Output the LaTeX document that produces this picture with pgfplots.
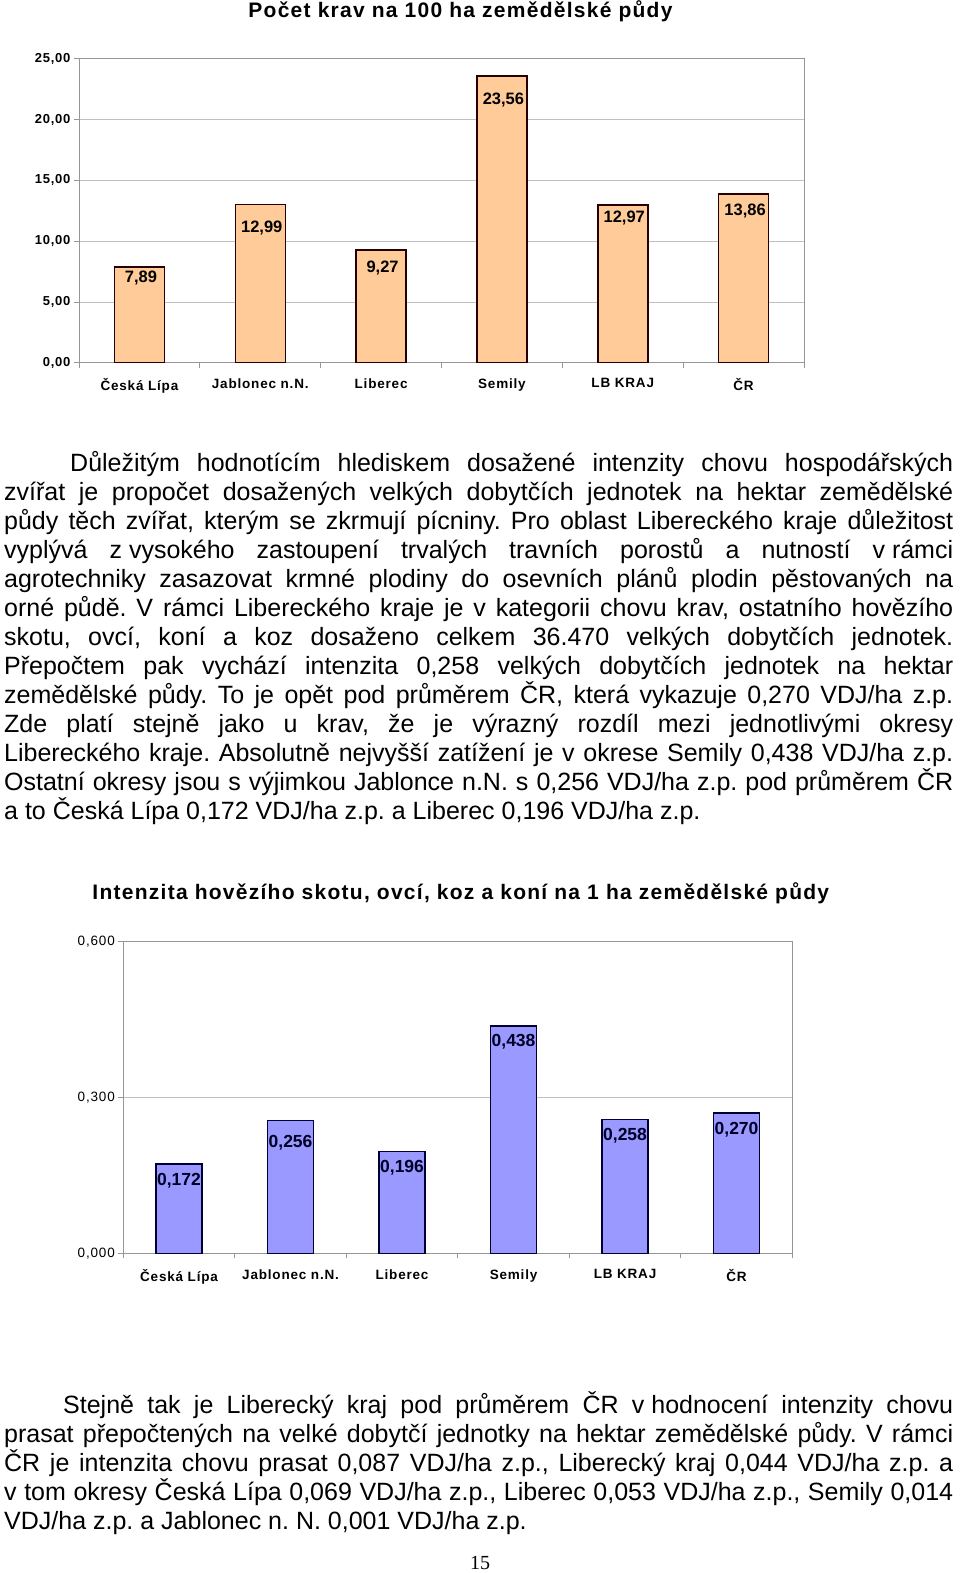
\documentclass[border=0pt]{standalone}
\usepackage{pgfplots}
\pgfplotsset{compat=1.18}
\usepackage{fontspec}
\setmainfont{Liberation Sans}
\newfontfamily\cf[LetterSpace=6]{Liberation Sans}
\newfontfamily\serif{Liberation Serif}
\definecolor{peach}{RGB}{255,204,153}
\definecolor{lav}{RGB}{153,153,255}
\definecolor{gridc}{RGB}{192,192,192}
\definecolor{axc}{RGB}{150,150,150}
\newcommand\body{\fontsize{25}{29}\selectfont\frenchspacing}
\newcommand\Ln[4]{\node[anchor=base west,inner sep=0pt] at (#1pt,-#2pt) {\body\makebox[#3pt][s]{#4}};}
\newcommand\Lp[3]{\node[anchor=base west,inner sep=0pt] at (#1pt,-#2pt) {\body #3};}
\pgfplotsset{
  mybars/.style={
    scale only axis, anchor=south west, clip=false,
    xmin=-0.5, xmax=5.5,
    xtick={-0.5,0.5,1.5,2.5,3.5,4.5,5.5}, x tick label as interval,
    xticklabels={Česká Lípa,Jablonec n.N.,Liberec,Semily,LB KRAJ,ČR},
    xtick pos=bottom, ytick pos=left,
    tick align=outside, major tick length=5pt,
    tick style={draw=axc, line width=0.8pt},
    axis line style={draw=axc, line width=1pt},
    ymajorgrids, grid style={draw=gridc, line width=0.8pt},
    xmajorgrids=false,
    ybar,
    xticklabel style={font=\cf\bfseries\fontsize{13.5}{14}\selectfont, inner sep=0pt, anchor=north},
  }
}
\begin{document}
\begin{tikzpicture}[x=1pt,y=1pt]
\useasboundingbox (0,0) rectangle (960,-1573);
\fill[white] (0,0) rectangle (960,-1573);

% ---------- Chart 1 ----------
\node[anchor=base, inner sep=0pt, font=\cf\bfseries\fontsize{21}{22}\selectfont] at (460.5,-17.3) {Počet krav na 100 ha zemědělské půdy};
\begin{axis}[mybars,
  at={(79pt,-362.7pt)},
  width=725pt, height=304pt,
  ymin=0, ymax=25,
  ytick={0,5,10,15,20,25},
  yticklabels={{0,00},{5,00},{10,00},{15,00},{20,00},{25,00}},
  yticklabel style={font=\cf\bfseries\fontsize{13}{14}\selectfont},
  xticklabel style={yshift=-10.5pt},
  bar width=50pt,
  nodes near coords={\pgfmathprintnumber[fixed,fixed zerofill,precision=2,use comma,assume math mode=true]{\pgfplotspointmeta}},
]
\addplot[fill=peach, draw=black!85!red, line width=1.5pt,
  visualization depends on={\thisrow{dy}\as\dy},
  every node near coord/.append style={anchor=center, inner sep=0pt, xshift=1.5pt, yshift=-\dy pt, text=black,
    font=\bfseries\fontsize{16.5}{17}\selectfont}]
  table[x=x,y=y]{
x y dy
0 7.89 11
1 12.99 23.5
2 9.27 18
3 23.56 24
4 12.97 13.5
5 13.86 17
};
\end{axis}

% ---------- Paragraph 1 ----------
\Ln{70}{471}{883}{Důležitým hodnotícím hlediskem dosažené intenzity chovu hospodářských}
\Ln{4}{500}{949}{zvířat je propočet dosažených velkých dobytčích jednotek na hektar zemědělské}
\Ln{4}{529}{949}{půdy těch zvířat, kterým se zkrmují pícniny. Pro oblast Libereckého kraje důležitost}
\Ln{4}{558}{949}{vyplývá \mbox{z vysokého} zastoupení trvalých travních porostů a nutností \mbox{v rámci}}
\Ln{4}{587}{949}{agrotechniky zasazovat krmné plodiny do osevních plánů plodin pěstovaných na}
\Ln{4}{616}{949}{orné půdě. V rámci Libereckého kraje je v kategorii chovu krav, ostatního hovězího}
\Ln{4}{645}{949}{skotu, ovcí, koní a koz dosaženo celkem 36.470 velkých dobytčích jednotek.}
\Ln{4}{674}{949}{Přepočtem pak vychází intenzita 0,258 velkých dobytčích jednotek na hektar}
\Ln{4}{703}{949}{zemědělské půdy. To je opět pod průměrem ČR, která vykazuje 0,270 VDJ/ha z.p.}
\Ln{4}{732}{949}{Zde platí stejně jako u krav, že je výrazný rozdíl mezi jednotlivými okresy}
\Ln{4}{761}{949}{Libereckého kraje. Absolutně nejvyšší zatížení je v okrese Semily 0,438 VDJ/ha z.p.}
\Ln{4}{790}{949}{Ostatní okresy jsou s výjimkou Jablonce n.N. s 0,256 VDJ/ha z.p. pod průměrem ČR}
\Lp{4}{819}{a to Česká Lípa 0,172 VDJ/ha z.p. a Liberec 0,196 VDJ/ha z.p.}

% ---------- Chart 2 ----------
\node[anchor=base, inner sep=0pt, font=\cf\bfseries\fontsize{21}{22}\selectfont] at (460.8,-899.3) {Intenzita hovězího skotu, ovcí, koz a koní na 1 ha zemědělské půdy};
\begin{axis}[mybars,
  at={(123.3pt,-1253.3pt)},
  width=669pt, height=311.6pt,
  ymin=0, ymax=0.6,
  ytick={0,0.3,0.6},
  yticklabels={{0,000},{0,300},{0,600}},
  yticklabel style={font=\cf\fontsize{13.5}{14}\selectfont},
  xticklabel style={yshift=-11pt},
  bar width=46pt,
  nodes near coords={\pgfmathprintnumber[fixed,fixed zerofill,precision=3,use comma,assume math mode=true]{\pgfplotspointmeta}},
]
\addplot[fill=lav, draw=black!80!blue, line width=1.5pt,
  visualization depends on={\thisrow{dy}\as\dy},
  every node near coord/.append style={anchor=center, inner sep=0pt, yshift=-\dy pt, text=black!85!blue,
    font=\bfseries\fontsize{17.5}{18}\selectfont}]
  table[x=x,y=y]{
x y dy
0 0.172 16.3
1 0.256 22.6
2 0.196 16.5
3 0.438 16
4 0.258 16.7
5 0.270 16.9
};
\end{axis}

% ---------- Paragraph 2 ----------
\Ln{63}{1413}{890}{Stejně tak je Liberecký kraj pod průměrem ČR \mbox{v hodnocení} intenzity chovu}
\Ln{4}{1442}{949}{prasat přepočtených na velké dobytčí jednotky na hektar zemědělské půdy. V rámci}
\Ln{4}{1471}{949}{ČR je intenzita chovu prasat 0,087 VDJ/ha z.p., Liberecký kraj 0,044 VDJ/ha z.p. a}
\Ln{4}{1500}{949}{v tom okresy Česká Lípa 0,069 VDJ/ha z.p., Liberec 0,053 VDJ/ha z.p., Semily 0,014}
\Lp{4}{1529}{VDJ/ha z.p. a Jablonec n. N. 0,001 VDJ/ha z.p.}

\node[anchor=base, inner sep=0pt, font=\serif\fontsize{20}{20}\selectfont] at (480,-1569) {15};
\end{tikzpicture}
\end{document}
